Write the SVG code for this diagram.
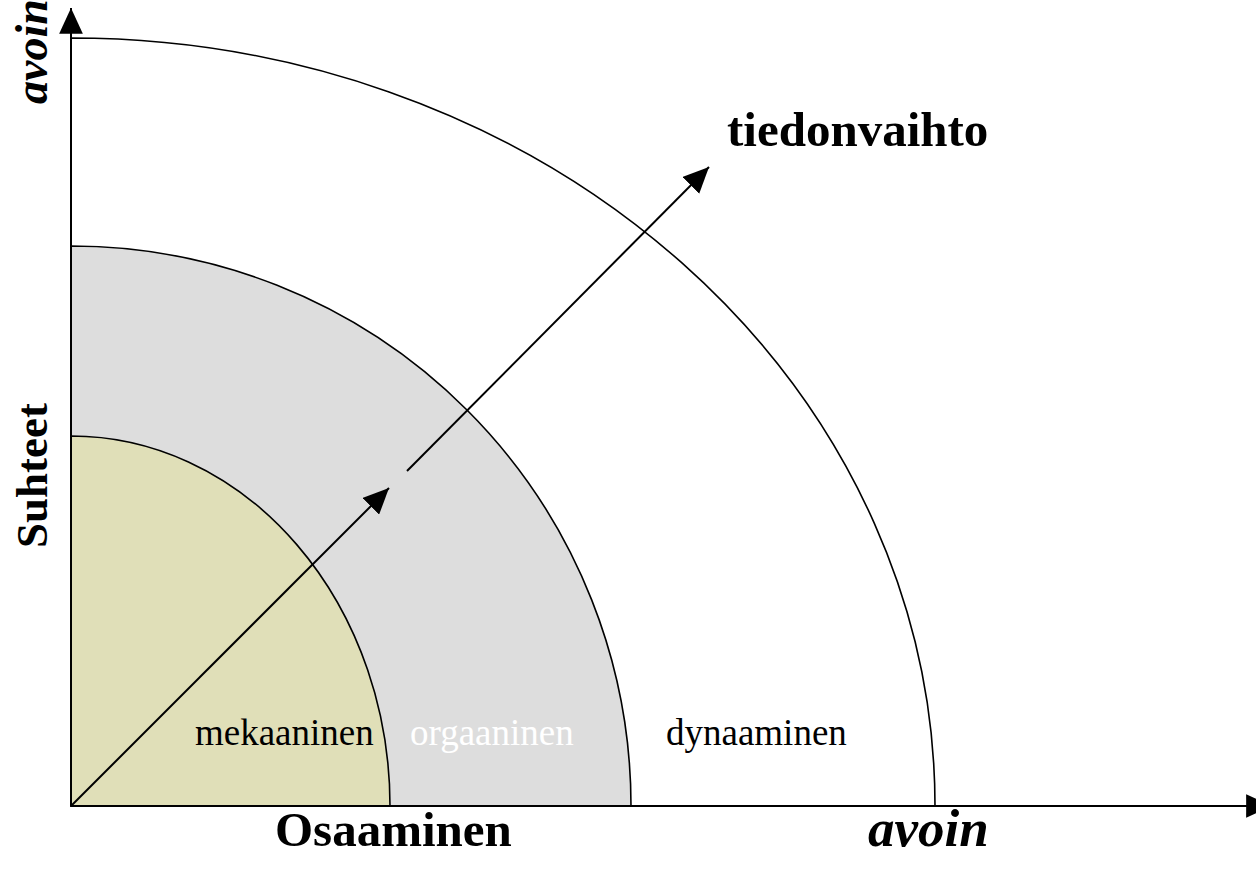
<svg xmlns="http://www.w3.org/2000/svg" width="1256" height="870" viewBox="0 0 1256 870">
<defs>
<style>
.arc{stroke:#000;stroke-width:1.6}
.ln{stroke:#000;stroke-width:2;fill:none}
.t{font-family:"Liberation Serif","Times New Roman",serif;fill:#000}
.b{font-weight:bold;font-size:49px}
.r{font-size:37px}
</style>
<marker id="ah" markerUnits="userSpaceOnUse" markerWidth="28" markerHeight="24" refX="24" refY="11" orient="auto" viewBox="0 0 26 22">
<path d="M0,0 L24,11 L0,22 Z" fill="#000"/>
</marker>
</defs>
<rect width="1256" height="870" fill="#fff"/>
<g id="zones">
<path id="dynaaminen-zone" class="arc" d="M71,38 A864,768 0 0 1 935,806 L71,806 Z" fill="#fff"/>
<path id="orgaaninen-zone" class="arc" d="M71,246 A560,560 0 0 1 631,806 L71,806 Z" fill="#dddddd"/>
<path id="mekaaninen-zone" class="arc" d="M71,436 A319,370 0 0 1 390,806 L71,806 Z" fill="#e0dfb8"/>
</g>
<g id="connectors">
<line class="ln" x1="71" y1="806" x2="71" y2="8" marker-end="url(#ah)"/>
<line class="ln" x1="71" y1="806" x2="1272" y2="806" marker-end="url(#ah)"/>
<line class="ln" x1="71" y1="806" x2="389" y2="488" marker-end="url(#ah)"/>
<line class="ln" x1="407" y1="471" x2="709" y2="167" marker-end="url(#ah)"/>
</g>
<g id="labels">
<text class="t r" x="195" y="745">mekaaninen</text>
<text class="t r" x="410" y="745" style="fill:#fff">orgaaninen</text>
<text class="t r" x="666" y="745">dynaaminen</text>
<text class="t b" x="727" y="146">tiedonvaihto</text>
<text class="t b" x="275" y="846">Osaaminen</text>
<text class="t b" x="868" y="846" font-style="italic" style="font-size:53px">avoin</text>
<text class="t b" transform="translate(47,548) rotate(-90)" style="font-size:45px">Suhteet</text>
<text class="t b" font-style="italic" transform="translate(47,104) rotate(-90)" style="font-size:46px">avoin</text>
</g>
</svg>
